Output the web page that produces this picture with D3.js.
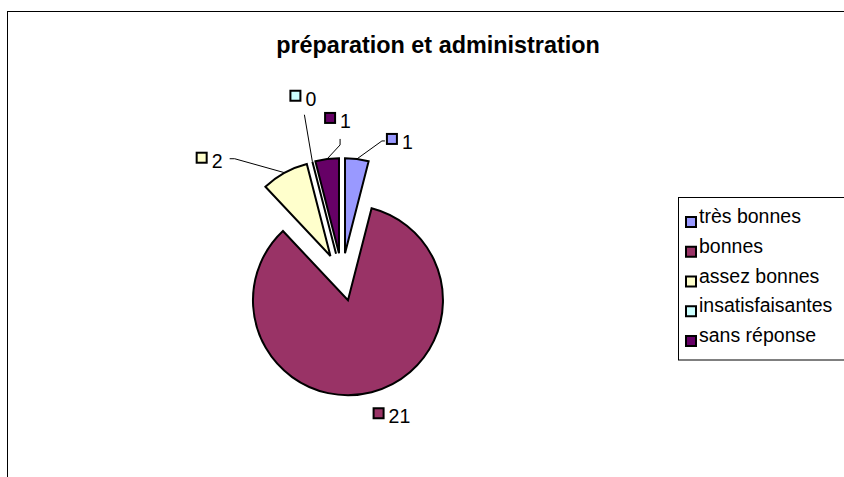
<!DOCTYPE html>
<html>
<head>
<meta charset="utf-8">
<script src="https://cdn.jsdelivr.net/npm/d3@7"></script>
<style>
  html, body { margin: 0; padding: 0; background: #fff; }
  svg { display: block; font-family: "Liberation Sans", Arial, sans-serif; }
</style>
</head>
<body>
<script>
// ---- data ----
const chartTitle = "préparation et administration";
const categories = ["très bonnes", "bonnes", "assez bonnes", "insatisfaisantes", "sans réponse"];
const values = [1, 21, 2, 0, 1];
const colors = ["#9999FF", "#993366", "#FFFFCC", "#CCFFFF", "#660066"];

// ---- layout ----
const W = 844, H = 477;
const pieCenter = [342, 277];
const radius = 95;
const explode = 24;
// label origin offsets from each slice's outer mid-arc point
const labelOffsets = [[29, -10], [1, 31], [-89, -5], [-23, -56], [-3, -31]];
// leader elbow points relative to label origin (null = no leader)
const leaderPts = [[[-4, -8], [-1, -8]], null, [[39, -9], [34, -9]], [[15, 9]], [[16, 17], [16, 11]]];
const fontSize = 19.5;
const titleSize = 23.4;

const svg = d3.select("body").append("svg").attr("width", W).attr("height", H);

// chart border
svg.append("rect")
  .attr("x", 7.5).attr("y", 11.5).attr("width", 900).attr("height", 500)
  .attr("fill", "#fff").attr("stroke", "#000").attr("stroke-width", 1);

// title
svg.append("text")
  .attr("x", 438).attr("y", 53)
  .attr("text-anchor", "middle")
  .attr("font-weight", "bold")
  .attr("font-size", titleSize)
  .text(chartTitle);

const data = categories.map((c, i) => ({ cat: c, value: values[i], color: colors[i], i }));
const pie = d3.pie().sort(null).value(d => d.value).startAngle(0).endAngle(2 * Math.PI);
const arcs = pie(data);
const arc = d3.arc().innerRadius(0).outerRadius(radius);

const g = svg.append("g").attr("transform", `translate(${pieCenter[0]},${pieCenter[1]})`);

arcs.forEach(a => {
  const mid = (a.startAngle + a.endAngle) / 2;
  a.offset = d3.pointRadial(mid, explode);
  const p = d3.pointRadial(mid, radius);
  a.outer = [pieCenter[0] + a.offset[0] + p[0], pieCenter[1] + a.offset[1] + p[1]];
});

g.selectAll("path.slice")
  .data(arcs)
  .join("path")
  .attr("class", "slice")
  .attr("transform", d => `translate(${d.offset[0]},${d.offset[1]})`)
  .attr("d", arc)
  .attr("fill", d => d.data.color)
  .attr("stroke", "#000")
  .attr("stroke-width", 2)
  .attr("stroke-linejoin", "miter");

// data labels
arcs.forEach(a => {
  const i = a.data.i;
  const ox = a.outer[0] + labelOffsets[i][0];
  const oy = a.outer[1] + labelOffsets[i][1];
  if (leaderPts[i]) {
    const pts = [a.outer].concat(leaderPts[i].map(p => [ox + p[0], oy + p[1]]));
    svg.append("path")
      .attr("d", d3.line()(pts))
      .attr("fill", "none").attr("stroke", "#000").attr("stroke-width", 1);
  }
  svg.append("rect")
    .attr("x", ox + 1).attr("y", oy - 15).attr("width", 10).attr("height", 10)
    .attr("fill", a.data.color).attr("stroke", "#000").attr("stroke-width", 2);
  svg.append("text")
    .attr("x", ox + 16).attr("y", oy)
    .attr("font-size", fontSize)
    .text(a.data.value);
});

// legend
const lg = svg.append("g");
lg.append("rect")
  .attr("x", 678.5).attr("y", 197.5).attr("width", 300).attr("height", 162.5)
  .attr("fill", "#fff").attr("stroke", "#000").attr("stroke-width", 1);
const ly = d3.scalePoint().domain(categories).range([223, 342]);
categories.forEach((c, i) => {
  const y = ly(c);
  lg.append("rect")
    .attr("x", 686).attr("y", y - 6).attr("width", 10).attr("height", 10)
    .attr("fill", colors[i]).attr("stroke", "#000").attr("stroke-width", 2);
  lg.append("text")
    .attr("x", 699).attr("y", y)
    .attr("font-size", fontSize)
    .text(c);
});
</script>
</body>
</html>
